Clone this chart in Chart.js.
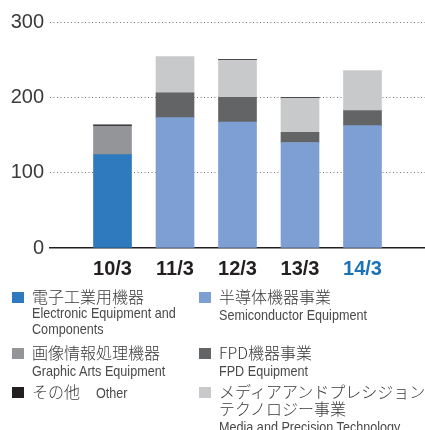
<!DOCTYPE html>
<html>
<head>
<meta charset="utf-8">
<script src="https://cdn.jsdelivr.net/npm/chart.js@4"></script>
<style>
  body { margin: 0; width: 425px; height: 430px; overflow: hidden; background: #fff; font-family: 'Liberation Sans', 'Noto Sans CJK JP', sans-serif; color: #3a3a3a; }
  #wrap { position: absolute; left: 0; top: 0; width: 425px; height: 296px; }
  #legend { position: absolute; left: 0; top: 288px; width: 425px; }
  .item { position: absolute; }
  .sq { position: absolute; width: 12px; height: 11px; left: 0; top: 4px; }
  .ja { position: absolute; left: 20px; top: 0; font-family: 'Noto Sans CJK JP', sans-serif; font-weight: 300; font-size: 16px; line-height: 17px; white-space: nowrap; }
  .en { display: inline-block; font-family: 'Liberation Sans', sans-serif; font-size: 14.5px; line-height: 16px; white-space: nowrap; color: #4a4a4a; transform: scaleX(0.87); transform-origin: left top; }
</style>
</head>
<body>
<div id="wrap"><canvas id="grafico"></canvas></div>
<div id="legend"></div>
<script>
// categorias e valores (億円)
const anos = ['10/3', '11/3', '12/3', '13/3', '14/3']
const eletronico = [124, null, null, null, null]
const semicondutor = [null, 173, 167, 140, 162.5]
const grafico = [38, null, null, null, null]
const fpd = [null, 33, 33, 13.5, 20]
const midia = [null, 48, 49.5, 45.5, 53]
const outros = [1.5, null, 1, 1, null]
const yTicks = [0, 100, 200, 300]

// legenda: [cor, japonês, inglês, x, y]
const legendas = [
    ['#2f7abf', '電子工業用機器', 'Electronic Equipment and<br>Components', 12, 0],
    ['#7e9fd3', '半導体機器事業', 'Semiconductor Equipment', 199, 0],
    ['#939598', '画像情報処理機器', 'Graphic Arts Equipment', 12, 56],
    ['#636466', 'FPD機器事業', 'FPD Equipment', 199, 56],
    ['#231f20', 'その他', 'Other', 12, 95],
    ['#c8c9cb', 'メディアアンドプレシジョン<br>テクノロジー事業', 'Media and Precision Technology', 199, 95],
]

// padding com categorias vazias nas pontas
const pad = arr => [null].concat(arr).concat([null])

const data = {
    labels: pad(anos).map(a => a || ''),
    datasets: [
        { label: '電子工業用機器', data: pad(eletronico), backgroundColor: '#2f7abf' },
        { label: '半導体機器事業', data: pad(semicondutor), backgroundColor: '#7e9fd3' },
        { label: '画像情報処理機器', data: pad(grafico), backgroundColor: '#939598' },
        { label: 'FPD機器事業', data: pad(fpd), backgroundColor: '#636466' },
        { label: 'メディアアンドプレシジョンテクノロジー事業', data: pad(midia), backgroundColor: '#c8c9cb' },
        { label: 'その他', data: pad(outros), backgroundColor: '#231f20' },
    ]
}

const config = {
    type: 'bar',
    data: data,
    options: {
        responsive: true,
        maintainAspectRatio: false,
        animation: false,
        layout: { padding: { top: 22, right: 0, bottom: 6, left: 0 } },
        datasets: { bar: { barThickness: 38, borderWidth: 0 } },
        plugins: { legend: { display: false }, tooltip: { enabled: false } },
        scales: {
            x: {
                stacked: true,
                offset: false,
                afterFit: s => { s.paddingLeft = 0; s.paddingRight = 0 },
                grid: { display: false, drawTicks: false },
                border: { display: true, color: '#231f20', width: 1.5 },
                ticks: {
                    padding: 9,
                    autoSkip: false,
                    maxRotation: 0,
                    font: { size: 20, weight: 'bold', family: 'Liberation Sans' },
                    color: ctx => ctx.tick.label === '14/3' ? '#1a72b9' : '#231f20',
                },
            },
            y: {
                stacked: true,
                min: 0,
                max: 300,
                afterFit: s => { s.width = 50 },
                afterBuildTicks: s => { s.ticks = yTicks.map(v => ({ value: v })) },
                border: { display: false, dash: [1, 2.5] },
                grid: {
                    drawTicks: false,
                    color: ctx => ctx.tick.value === 0 ? 'rgba(0,0,0,0)' : '#7a7a7a',
                    lineWidth: 1,
                },
                ticks: {
                    padding: 6,
                    font: { size: 20, family: 'Liberation Sans' },
                    color: '#3a3a3a',
                },
            },
        },
    },
}

const chart = new Chart(document.getElementById('grafico'), config)

const legendaDiv = document.getElementById('legend')
legendas.forEach(l => {
    const div = document.createElement('div')
    div.className = 'item'
    div.style.left = l[3] + 'px'
    div.style.top = l[4] + 'px'
    let html = '<div class="sq" style="background:' + l[0] + '"></div>'
    if (l[1] === 'その他') {
        html += '<div class="ja">その他<span class="en" style="margin-left:16px">' + l[2] + '</span></div>'
    } else {
        html += '<div class="ja">' + l[1] + '<br><span class="en">' + l[2] + '</span></div>'
    }
    div.innerHTML = html
    legendaDiv.appendChild(div)
})
</script>
</body>
</html>
